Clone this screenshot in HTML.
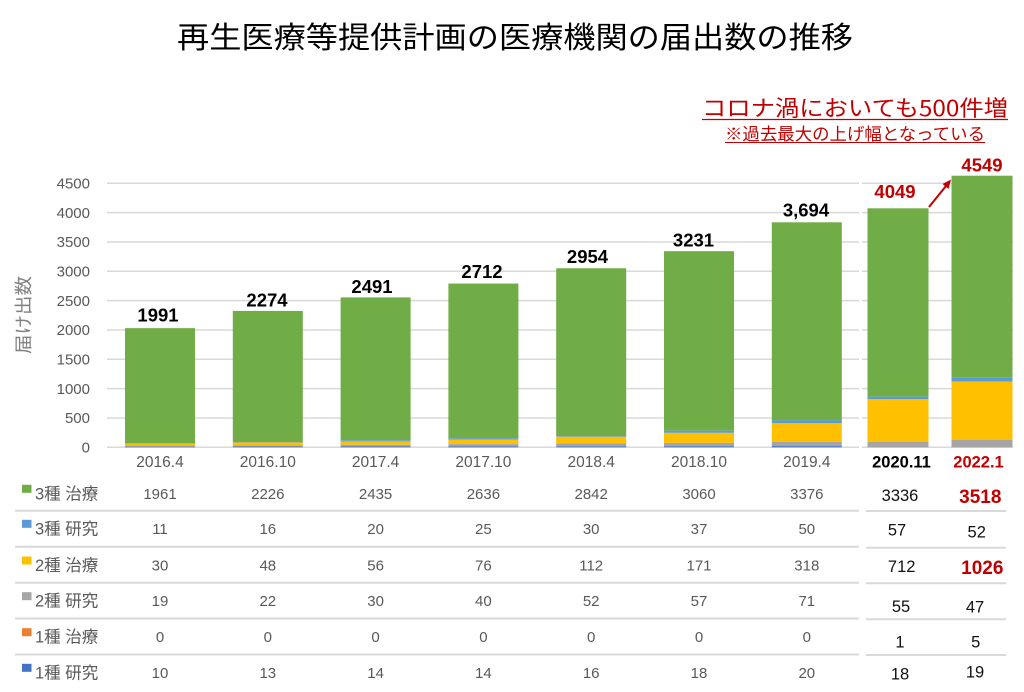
<!DOCTYPE html>
<html><head><meta charset="utf-8"><style>
html,body{margin:0;padding:0;background:#fff;}
svg{display:block;}
text{font-family:"Liberation Sans","Noto Sans CJK JP",sans-serif;}
.cjk{font-family:"Noto Sans CJK JP","Liberation Sans",sans-serif;}
</style></head><body>
<svg width="1024" height="692" viewBox="0 0 1024 692" xmlns="http://www.w3.org/2000/svg">
<rect width="1024" height="692" fill="#fff"/>
<!-- Title -->
<text class="cjk" x="177" y="48" font-size="30" fill="#000" textLength="676" lengthAdjust="spacingAndGlyphs">再生医療等提供計画の医療機関の届出数の推移</text>
<!-- Red annotations -->
<text class="cjk" x="702" y="116" font-size="22" fill="#c00000" textLength="306" lengthAdjust="spacingAndGlyphs">コロナ渦においても500件増</text>
<line x1="702" y1="119.5" x2="1008" y2="119.5" stroke="#c00000" stroke-width="1.3"/>
<text class="cjk" x="725" y="140" font-size="17" fill="#c00000" textLength="260" lengthAdjust="spacingAndGlyphs">※過去最大の上げ幅となっている</text>
<line x1="725" y1="142.5" x2="985" y2="142.5" stroke="#c00000" stroke-width="1"/>

<!-- Grid left -->
<g stroke="#d9d9d9" stroke-width="1.5">
<line x1="107" y1="183.3" x2="859" y2="183.3"/>
<line x1="107" y1="212.6" x2="859" y2="212.6"/>
<line x1="107" y1="242" x2="859" y2="242"/>
<line x1="107" y1="271.3" x2="859" y2="271.3"/>
<line x1="107" y1="300.6" x2="859" y2="300.6"/>
<line x1="107" y1="330" x2="859" y2="330"/>
<line x1="107" y1="359.3" x2="859" y2="359.3"/>
<line x1="107" y1="388.6" x2="859" y2="388.6"/>
<line x1="107" y1="418" x2="859" y2="418"/>
<line x1="107" y1="447.3" x2="859" y2="447.3"/>
<!-- right grid -->
<line x1="862" y1="183.3" x2="1013" y2="183.3"/>
<line x1="862" y1="212.6" x2="1013" y2="212.6"/>
<line x1="862" y1="242" x2="1013" y2="242"/>
<line x1="862" y1="271.3" x2="1013" y2="271.3"/>
<line x1="862" y1="300.6" x2="1013" y2="300.6"/>
<line x1="862" y1="330" x2="1013" y2="330"/>
<line x1="862" y1="359.3" x2="1013" y2="359.3"/>
<line x1="862" y1="388.6" x2="1013" y2="388.6"/>
<line x1="862" y1="418" x2="1013" y2="418"/>
<line x1="862" y1="447.3" x2="1013" y2="447.3"/>
</g>

<!-- Y tick labels -->
<g font-size="15" fill="#595959" text-anchor="end">
<text x="90" y="188.5">4500</text>
<text x="90" y="217.8">4000</text>
<text x="90" y="247.2">3500</text>
<text x="90" y="276.5">3000</text>
<text x="90" y="305.8">2500</text>
<text x="90" y="335.2">2000</text>
<text x="90" y="364.5">1500</text>
<text x="90" y="393.8">1000</text>
<text x="90" y="423.2">500</text>
<text x="90" y="452.5">0</text>
</g>
<!-- Y axis title -->
<text class="cjk" transform="translate(30,315) rotate(-90)" text-anchor="middle" font-size="18" fill="#808080" textLength="78" lengthAdjust="spacingAndGlyphs">届け出数</text>

<!-- Bars -->
<g>
<rect x="125" y="328.14" width="70" height="115.05" fill="#70ad47"/>
<rect x="125" y="443.19" width="70" height="0.65" fill="#5b9bd5"/>
<rect x="125" y="443.84" width="70" height="1.76" fill="#ffc000"/>
<rect x="125" y="445.6" width="70" height="1.11" fill="#a5a5a5"/>
<rect x="125" y="446.71" width="70" height="0.59" fill="#4472c4"/>
</g>
<g>
<rect x="232.8" y="310.9" width="70" height="130.59" fill="#70ad47"/>
<rect x="232.8" y="441.49" width="70" height="0.94" fill="#5b9bd5"/>
<rect x="232.8" y="442.43" width="70" height="2.82" fill="#ffc000"/>
<rect x="232.8" y="445.25" width="70" height="1.29" fill="#a5a5a5"/>
<rect x="232.8" y="446.54" width="70" height="0.76" fill="#4472c4"/>
</g>
<g>
<rect x="340.6" y="297.41" width="70" height="142.85" fill="#70ad47"/>
<rect x="340.6" y="440.26" width="70" height="1.17" fill="#5b9bd5"/>
<rect x="340.6" y="441.43" width="70" height="3.29" fill="#ffc000"/>
<rect x="340.6" y="444.72" width="70" height="1.76" fill="#a5a5a5"/>
<rect x="340.6" y="446.48" width="70" height="0.82" fill="#4472c4"/>
</g>
<g>
<rect x="448.4" y="283.56" width="70" height="154.65" fill="#70ad47"/>
<rect x="448.4" y="438.21" width="70" height="1.47" fill="#5b9bd5"/>
<rect x="448.4" y="439.67" width="70" height="4.46" fill="#ffc000"/>
<rect x="448.4" y="444.13" width="70" height="2.35" fill="#a5a5a5"/>
<rect x="448.4" y="446.48" width="70" height="0.82" fill="#4472c4"/>
</g>
<g>
<rect x="556.2" y="268.25" width="70" height="166.73" fill="#70ad47"/>
<rect x="556.2" y="434.98" width="70" height="1.76" fill="#5b9bd5"/>
<rect x="556.2" y="436.74" width="70" height="6.57" fill="#ffc000"/>
<rect x="556.2" y="443.31" width="70" height="3.05" fill="#a5a5a5"/>
<rect x="556.2" y="446.36" width="70" height="0.94" fill="#4472c4"/>
</g>
<g>
<rect x="664" y="251.18" width="70" height="179.52" fill="#70ad47"/>
<rect x="664" y="430.7" width="70" height="2.17" fill="#5b9bd5"/>
<rect x="664" y="432.87" width="70" height="10.03" fill="#ffc000"/>
<rect x="664" y="442.9" width="70" height="3.34" fill="#a5a5a5"/>
<rect x="664" y="446.24" width="70" height="1.06" fill="#4472c4"/>
</g>
<g>
<rect x="771.8" y="222.31" width="70" height="198.06" fill="#70ad47"/>
<rect x="771.8" y="420.37" width="70" height="2.94" fill="#5b9bd5"/>
<rect x="771.8" y="423.31" width="70" height="18.65" fill="#ffc000"/>
<rect x="771.8" y="441.96" width="70" height="4.17" fill="#a5a5a5"/>
<rect x="771.8" y="446.13" width="70" height="1.17" fill="#4472c4"/>
</g>
<g>
<rect x="867.5" y="208.3" width="61" height="188.4" fill="#70ad47"/>
<rect x="867.5" y="396.7" width="61" height="2.6" fill="#5b9bd5"/>
<rect x="867.5" y="399.3" width="61" height="42.4" fill="#ffc000"/>
<rect x="867.5" y="441.7" width="61" height="5.6" fill="#a5a5a5"/>
</g>
<g>
<rect x="951.5" y="175.7" width="61" height="201.6" fill="#70ad47"/>
<rect x="951.5" y="377.3" width="61" height="4.4" fill="#5b9bd5"/>
<rect x="951.5" y="381.7" width="61" height="58.3" fill="#ffc000"/>
<rect x="951.5" y="440" width="61" height="7.3" fill="#a5a5a5"/>
</g>

<!-- Arrow -->
<line x1="929" y1="207" x2="946" y2="186" stroke="#c00000" stroke-width="2"/>
<polygon points="951,179.5 942.5,184 948.5,189" fill="#c00000"/>

<!-- Value labels -->
<g font-size="18.5" font-weight="bold" fill="#000" text-anchor="middle">
<text x="158" y="321.5">1991</text>
<text x="267" y="306.5">2274</text>
<text x="372" y="293">2491</text>
<text x="482" y="278">2712</text>
<text x="587.5" y="263">2954</text>
<text x="693.5" y="246.5">3231</text>
<text x="806" y="216.5">3,694</text>
</g>
<g font-size="18.5" font-weight="bold" fill="#c00000" text-anchor="middle">
<text x="895" y="198">4049</text>
<text x="982" y="171.5">4549</text>
</g>

<!-- Category labels -->
<g font-size="15.5" fill="#595959" text-anchor="middle">
<text x="160" y="467">2016.4</text>
<text x="267.8" y="467">2016.10</text>
<text x="375.6" y="467">2017.4</text>
<text x="483.4" y="467">2017.10</text>
<text x="591.2" y="467">2018.4</text>
<text x="699" y="467">2018.10</text>
<text x="806.8" y="467">2019.4</text>
</g>
<text x="901.5" y="467.5" font-size="16.5" font-weight="bold" fill="#000" text-anchor="middle">2020.11</text>
<text x="978.5" y="467.5" font-size="16.5" font-weight="bold" fill="#c00000" text-anchor="middle">2022.1</text>

<!-- Table separator lines -->
<g stroke="#d9d9d9" stroke-width="2">
<line x1="15" y1="510.7" x2="859" y2="510.7"/>
<line x1="15" y1="546.7" x2="859" y2="546.7"/>
<line x1="15" y1="582.7" x2="859" y2="582.7"/>
<line x1="15" y1="618.5" x2="859" y2="618.5"/>
<line x1="15" y1="654.5" x2="859" y2="654.5"/>
<line x1="866" y1="511" x2="1006" y2="511"/>
<line x1="866" y1="547.7" x2="1006" y2="547.7"/>
<line x1="866" y1="583.3" x2="1006" y2="583.3"/>
<line x1="866" y1="619.3" x2="1006" y2="619.3"/>
<line x1="866" y1="655" x2="1006" y2="655"/>
</g>

<!-- Legend squares -->
<rect x="22" y="484.8" width="9.5" height="8" fill="#70ad47"/>
<rect x="22" y="519.8" width="9.5" height="8" fill="#5b9bd5"/>
<rect x="22" y="556.5" width="9.5" height="8" fill="#ffc000"/>
<rect x="22" y="592.2" width="9.5" height="8" fill="#a5a5a5"/>
<rect x="22" y="628.2" width="9.5" height="8" fill="#ed7d31"/>
<rect x="22" y="663.8" width="9.5" height="8" fill="#4472c4"/>

<!-- Legend labels -->
<g font-size="16.5" fill="#595959">
<text x="35" y="499.3">3種 治療</text>
<text x="35" y="534.3">3種 研究</text>
<text x="35" y="571">2種 治療</text>
<text x="35" y="606.7">2種 研究</text>
<text x="35" y="642.7">1種 治療</text>
<text x="35" y="678.3">1種 研究</text>
</g>

<!-- Left table values -->
<g font-size="15" fill="#595959" text-anchor="middle">
<text x="160" y="498.8">1961</text><text x="267.8" y="498.8">2226</text><text x="375.6" y="498.8">2435</text><text x="483.4" y="498.8">2636</text><text x="591.2" y="498.8">2842</text><text x="699" y="498.8">3060</text><text x="806.8" y="498.8">3376</text>
<text x="160" y="533.8">11</text><text x="267.8" y="533.8">16</text><text x="375.6" y="533.8">20</text><text x="483.4" y="533.8">25</text><text x="591.2" y="533.8">30</text><text x="699" y="533.8">37</text><text x="806.8" y="533.8">50</text>
<text x="160" y="570.5">30</text><text x="267.8" y="570.5">48</text><text x="375.6" y="570.5">56</text><text x="483.4" y="570.5">76</text><text x="591.2" y="570.5">112</text><text x="699" y="570.5">171</text><text x="806.8" y="570.5">318</text>
<text x="160" y="606.2">19</text><text x="267.8" y="606.2">22</text><text x="375.6" y="606.2">30</text><text x="483.4" y="606.2">40</text><text x="591.2" y="606.2">52</text><text x="699" y="606.2">57</text><text x="806.8" y="606.2">71</text>
<text x="160" y="642.2">0</text><text x="267.8" y="642.2">0</text><text x="375.6" y="642.2">0</text><text x="483.4" y="642.2">0</text><text x="591.2" y="642.2">0</text><text x="699" y="642.2">0</text><text x="806.8" y="642.2">0</text>
<text x="160" y="677.8">10</text><text x="267.8" y="677.8">13</text><text x="375.6" y="677.8">14</text><text x="483.4" y="677.8">14</text><text x="591.2" y="677.8">16</text><text x="699" y="677.8">18</text><text x="806.8" y="677.8">20</text>
</g>

<!-- Right table values -->
<g font-size="16.5" fill="#111" text-anchor="middle">
<text x="900" y="501">3336</text>
<text x="897" y="535.3">57</text>
<text x="976.7" y="537.7">52</text>
<text x="901.7" y="572">712</text>
<text x="901" y="612">55</text>
<text x="975" y="612.7">47</text>
<text x="900" y="647.7">1</text>
<text x="975.7" y="647.7">5</text>
<text x="900" y="679.3">18</text>
<text x="975" y="677.7">19</text>
</g>
<g font-size="19" font-weight="bold" fill="#c00000" text-anchor="middle">
<text x="980.3" y="502.8">3518</text>
<text x="982.3" y="574">1026</text>
</g>
</svg>
</body></html>
